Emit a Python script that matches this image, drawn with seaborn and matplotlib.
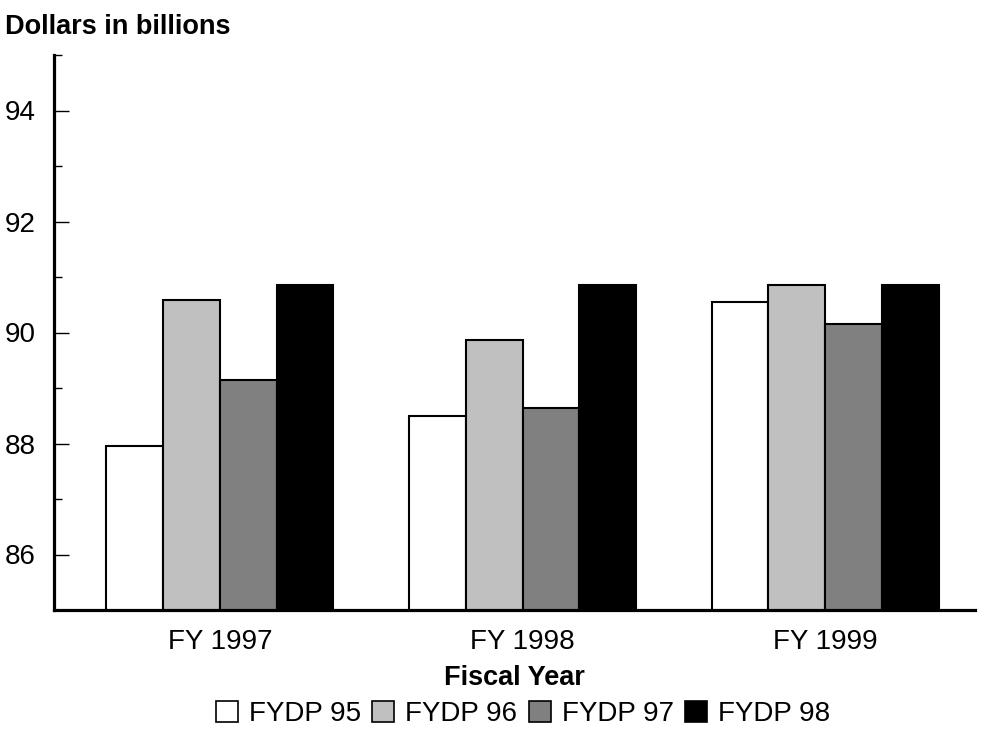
import matplotlib
matplotlib.use("Agg")
import matplotlib.pyplot as plt
from matplotlib.ticker import MultipleLocator
from matplotlib.patches import Patch
import seaborn as sns
import pandas as pd

categories = ["FY 1997", "FY 1998", "FY 1999"]
series = ["FYDP 95", "FYDP 96", "FYDP 97", "FYDP 98"]
fydp95 = [87.95, 88.50, 90.55]
fydp96 = [90.58, 89.87, 90.86]
fydp97 = [89.14, 88.64, 90.15]
fydp98 = [90.86, 90.86, 90.86]
colors = ["#ffffff", "#c0c0c0", "#808080", "#000000"]

rows = []
for name, vals in zip(series, [fydp95, fydp96, fydp97, fydp98]):
    for c, v in zip(categories, vals):
        rows.append({"year": c, "series": name, "value": v})
df = pd.DataFrame(rows)

sns.set_style("white")
plt.rcParams["font.family"] = ["Liberation Sans", "DejaVu Sans"]
plt.rcParams["text.color"] = "black"
plt.rcParams["axes.labelcolor"] = "black"
plt.rcParams["xtick.color"] = "black"
plt.rcParams["ytick.color"] = "black"

fig = plt.figure(figsize=(9.85, 7.45), dpi=100)
ax = fig.add_axes([54/985, 135/745, 921/985, 555/745])

sns.barplot(data=df, x="year", y="value", hue="series", order=categories,
            hue_order=series, palette=colors, width=0.75, gap=0,
            edgecolor="black", linewidth=1.5, legend=False, ax=ax, saturation=1)

ax.set_ylim(85, 95)
ax.set_xlim(-0.548, 2.495)
ax.set_yticks([86, 88, 90, 92, 94])
ax.yaxis.set_minor_locator(MultipleLocator(1))
ax.tick_params(axis="y", which="major", direction="in", length=11, width=1,
               labelsize=20, left=True, pad=13.5)
ax.tick_params(axis="y", which="minor", direction="in", length=6, width=1, left=True)
ax.tick_params(axis="x", length=0, labelsize=20, pad=14)

for s in ["top", "right"]:
    ax.spines[s].set_visible(False)
for s in ["left", "bottom"]:
    ax.spines[s].set_linewidth(2.3)
    ax.spines[s].set_color("black")

ax.set_xlabel("Fiscal Year", fontsize=19.5, fontweight="bold", labelpad=7)
ax.set_ylabel("")
fig.text(5/985, 1 - 27/745, "Dollars in billions", fontsize=19.5, fontweight="bold",
         ha="left", va="center")

handles = [Patch(facecolor=c, edgecolor="black", linewidth=1.2) for c in colors]
fig.legend(handles, series, loc="center", bbox_to_anchor=(523/985, 1 - 714/745),
           ncol=4, frameon=False, fontsize=20, handlelength=0.8, handleheight=0.8,
           handletextpad=0.4, columnspacing=0.4, borderaxespad=0)

fig.savefig("out.png", dpi=100)
